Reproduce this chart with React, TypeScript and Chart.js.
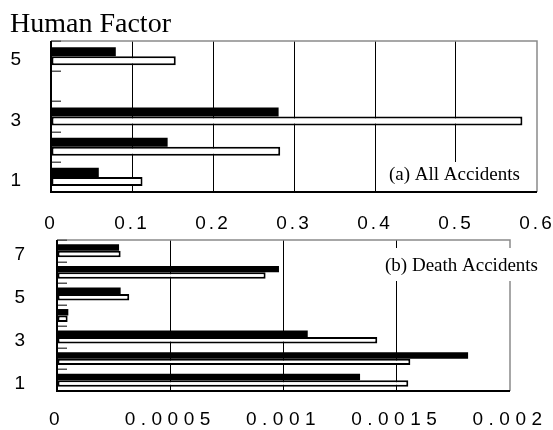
import React, { useEffect, useRef } from 'react';
import { Chart, registerables } from 'chart.js';

Chart.register(...registerables);

// ---- Data (categories listed top to bottom) ----
const allCategories = ['5', '4', '3', '2', '1'];
const allBlack = [0.08, 0, 0.281, 0.144, 0.059];
const allWhite = [0.154, 0, 0.582, 0.283, 0.113];
const allMax = 0.6;
const allStep = 0.1;

const deathCategories = ['7', '6', '5', '4', '3', '2', '1'];
const deathBlack = [0.000274, 0.00098, 0.000281, 0.00005, 0.001107, 0.001815, 0.001338];
const deathWhite = [0.000281, 0.000921, 0.000319, 0.000047, 0.001414, 0.00156, 0.001551];
const deathMax = 0.002;
const deathStep = 0.0005;

const titleText = 'Human Factor';
const noteAll = '(a) All Accidents';
const noteDeath = '(b) Death Accidents';

const SANS = "'Liberation Sans', Arial, sans-serif";
const SERIF = "'Liberation Serif', 'Times New Roman', serif";

type NoteLayout = (a: { left: number; right: number; top: number; bottom: number }) => {
  tx: number; ty: number; bx0: number; bx1: number; by0: number; by1: number;
};

interface PanelSpec {
  labels: string[];
  black: number[];
  white: number[];
  max: number;
  step: number;
  title?: string;
  padding: { left: number; right: number; top: number; bottom: number };
  yWidth: number;
  yPad: number;
  xHeight: number;
  xPad: number;
  spacing: number;
  note: string;
  noteLayout: NoteLayout;
}

function framePlugin(spec: PanelSpec) {
  return {
    id: 'frame',
    beforeDatasetsDraw(chart: any) {
      const { ctx, chartArea: a } = chart;
      ctx.save();
      ctx.strokeStyle = '#8a8a8a';
      ctx.lineWidth = 1.5;
      ctx.beginPath();
      ctx.moveTo(a.left, a.top);
      ctx.lineTo(a.right, a.top);
      ctx.lineTo(a.right, a.bottom);
      ctx.stroke();
      // inward tick marks at category boundaries
      const ys = chart.scales.y;
      const n = spec.labels.length;
      ctx.strokeStyle = '#555';
      ctx.lineWidth = 1.5;
      for (let i = 0; i <= n; i++) {
        const y = Math.round(ys.getPixelForValue(i - 0.5)) + 0.25;
        ctx.beginPath();
        ctx.moveTo(a.left, y);
        ctx.lineTo(a.left + 10, y);
        ctx.stroke();
      }
      ctx.restore();
    },
    afterDatasetsDraw(chart: any) {
      const { ctx, chartArea: a } = chart;
      ctx.save();
      ctx.strokeStyle = '#000';
      ctx.lineWidth = 2;
      ctx.beginPath();
      ctx.moveTo(a.left, a.top);
      ctx.lineTo(a.left, a.bottom);
      ctx.lineTo(a.right, a.bottom);
      ctx.stroke();
      ctx.restore();
      (ctx as any).letterSpacing = spec.spacing + 'px';
    },
    afterDraw(chart: any) {
      const { ctx, chartArea: a } = chart;
      (ctx as any).letterSpacing = '0px';
      const L = spec.noteLayout(a);
      ctx.save();
      ctx.fillStyle = '#fff';
      ctx.fillRect(L.bx0, L.by0, L.bx1 - L.bx0, L.by1 - L.by0);
      ctx.fillStyle = '#000';
      ctx.font = `19px ${SERIF}`;
      ctx.textAlign = 'left';
      ctx.textBaseline = 'alphabetic';
      ctx.fillText(spec.note, L.tx, L.ty);
      ctx.restore();
    },
  };
}

function buildConfig(spec: PanelSpec): any {
  return {
    type: 'bar',
    data: {
      labels: spec.labels,
      datasets: [
        {
          data: spec.black,
          backgroundColor: '#000',
          borderWidth: 0,
          categoryPercentage: 0.6,
          barPercentage: 1,
        },
        {
          data: spec.white,
          backgroundColor: '#fff',
          borderColor: '#000',
          borderWidth: 2,
          borderSkipped: false,
          categoryPercentage: 0.6,
          barPercentage: 1,
        },
      ],
    },
    options: {
      indexAxis: 'y',
      animation: false,
      responsive: false,
      events: [],
      layout: { padding: spec.padding },
      plugins: {
        legend: { display: false },
        tooltip: { enabled: false },
        title: spec.title
          ? {
              display: true,
              text: spec.title,
              align: 'start',
              color: '#000',
              font: { family: SERIF, size: 28, weight: 'normal' },
              padding: { top: 7.5, bottom: 0 },
            }
          : { display: false },
      },
      scales: {
        x: {
          type: 'linear',
          min: 0,
          max: spec.max,
          grid: {
            drawTicks: false,
            lineWidth: 1,
            color: (c: any) =>
              c.index === 0 || c.index === c.scale.ticks.length - 1 ? 'rgba(0,0,0,0)' : '#000',
          },
          border: { display: false },
          ticks: {
            stepSize: spec.step,
            color: '#000',
            font: { family: SANS, size: 19 },
            padding: spec.xPad,
            maxRotation: 0,
            z: 1,
            callback: (v: number) => String(+Number(v).toFixed(5)),
          },
          afterFit: (s: any) => {
            s.height = spec.xHeight;
            s.paddingLeft = 0;
            s.paddingRight = 0;
          },
        },
        y: {
          type: 'category',
          offset: true,
          grid: { display: false, drawTicks: false },
          border: { display: false },
          ticks: {
            autoSkip: false,
            color: '#000',
            font: { family: SANS, size: 19 },
            padding: spec.yPad,
            labelOffset: 4,
            callback: function (this: any, value: any) {
              const l = this.getLabelForValue(value);
              return Number(l) % 2 === 1 ? l : '';
            },
          },
          afterFit: (s: any) => {
            s.width = spec.yWidth;
            s.paddingTop = 0;
            s.paddingBottom = 0;
          },
        },
      },
    },
    plugins: [framePlugin(spec)],
  };
}

const topSpec: PanelSpec = {
  labels: allCategories,
  black: allBlack,
  white: allWhite,
  max: allMax,
  step: allStep,
  title: titleText,
  padding: { left: 10, right: 16, top: 0, bottom: 0 },
  yWidth: 41,
  yPad: 30,
  xHeight: 44,
  xPad: 20.5,
  spacing: 3,
  note: noteAll,
  noteLayout: (a) => ({
    tx: a.right - 148,
    ty: a.bottom - 12,
    bx0: a.right - 153,
    bx1: a.right - 3,
    by0: a.bottom - 30,
    by1: a.bottom - 1,
  }),
};

const bottomSpec: PanelSpec = {
  labels: deathCategories,
  black: deathBlack,
  white: deathWhite,
  max: deathMax,
  step: deathStep,
  padding: { left: 10, right: 43, top: 4, bottom: 0 },
  yWidth: 47,
  yPad: 32,
  xHeight: 39,
  xPad: 17,
  spacing: 5.5,
  note: noteDeath,
  noteLayout: (a) => ({
    tx: a.right - 125,
    ty: a.top + 31,
    bx0: a.right - 127,
    bx1: a.right + 33,
    by0: a.top + 8,
    by1: a.top + 41,
  }),
};

function Panel({ spec, top, height }: { spec: PanelSpec; top: number; height: number }) {
  const ref = useRef<HTMLCanvasElement>(null);
  useEffect(() => {
    const chart = new Chart(ref.current as HTMLCanvasElement, buildConfig(spec));
    return () => chart.destroy();
  }, [spec]);
  return (
    <canvas
      ref={ref}
      width={553}
      height={height}
      style={{ position: 'absolute', left: 0, top, width: 553, height }}
    />
  );
}

export default function App() {
  return (
    <div
      style={{
        position: 'absolute',
        left: 0,
        top: 0,
        width: 553,
        height: 430,
        background: '#fff',
        overflow: 'hidden',
      }}
    >
      <Panel spec={topSpec} top={0} height={236} />
      <Panel spec={bottomSpec} top={236} height={194} />
    </div>
  );
}
